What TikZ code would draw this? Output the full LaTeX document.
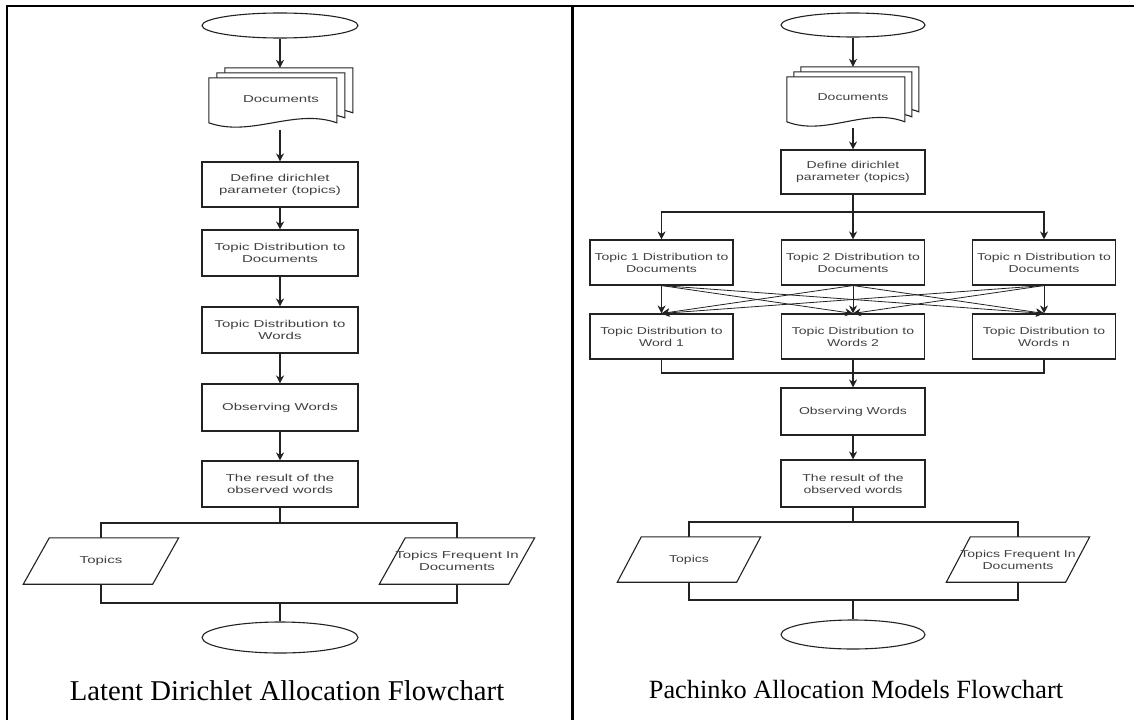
\documentclass[tikz,border=0pt]{standalone}
\usepackage{fontspec}
\setmainfont{Liberation Serif}
\newfontfamily\bfL[FakeStretch=1.5]{Liberation Sans}
\newfontfamily\bfR[FakeStretch=1.4]{Liberation Sans}
\usetikzlibrary{shapes.geometric,arrows.meta,calc}
\pgfdeclarelayer{bg}
\pgfdeclarelayer{mid}
\pgfsetlayers{bg,mid,main}
\definecolor{lc}{HTML}{222222}
\definecolor{tc}{HTML}{404040}
\newcommand\docpage[3]{%
  \draw[page] (#1,#2) -- ({#1+#3},#2) -- ({#1+#3},{#2+45})
    .. controls ({#1+0.67*#3},{#2+30}) and ({#1+0.33*#3},{#2+60}) .. (#1,{#2+45}) -- cycle;}
\newcommand\parashape[2]{%
  \begin{pgfonlayer}{mid}
  \draw[page] ($(#1.south west)+(-#2,0)$) -- ($(#1.south east)+(-#2,0)$)
     -- ($(#1.north east)+(#2,0)$) -- ($(#1.north west)+(#2,0)$) -- cycle;
  \end{pgfonlayer}}
\tikzset{
  ln/.style={draw=lc, line width=1.1pt},
  arr/.style={ln, -{Stealth[length=8pt,width=8pt,inset=2.5pt]}},
  boxL/.style={draw=lc, line width=1.1pt, fill=white, minimum width=156pt, minimum height=46pt,
    inner sep=0pt, align=center, text=tc, font=\bfL\fontsize{10}{12}\selectfont},
  boxR/.style={boxL, minimum width=144pt, font=\bfR\fontsize{10}{12}\selectfont},
  termL/.style={ellipse, draw=lc, line width=1.1pt, fill=white, minimum width=156pt,
    minimum height=25pt, inner sep=0pt},
  termR/.style={termL, minimum width=144pt},
  pboxL/.style={align=center, text=tc, inner sep=0pt, minimum width=129pt, minimum height=46pt,
    font=\bfL\fontsize{10}{12}\selectfont},
  pboxR/.style={pboxL, minimum width=119pt, minimum height=45pt, font=\bfR\fontsize{10}{12}\selectfont},
  docbox/.style={inner sep=0pt, align=center, text=tc},
  page/.style={draw=lc, line width=1.1pt, fill=white},
  captext/.style={anchor=base, inner sep=0pt},
  frame/.style={draw=black, line width=2.2pt}
}
\begin{document}
\begin{tikzpicture}[x=1pt,y=-1pt]
\useasboundingbox (0,0) rectangle (1134,720);
% frame
\draw[frame] (7,720) -- (7,6) -- (1134,6);
\draw[frame] (572.5,6) -- (572.5,720);

% ---------------- left panel ----------------
\node[termL, minimum height=25pt] (sL) at (280,25.5) {};
\node[docbox, minimum width=144pt, minimum height=62pt, font=\bfL\fontsize{10}{12}\selectfont] (docL) at (281,99) {Documents};
\begin{pgfonlayer}{bg}
\begin{scope}[shift={(docL.north west)}]
  \docpage{16}{0}{128}
  \docpage{8}{5}{128}
  \docpage{0}{10}{128}
\end{scope}
\end{pgfonlayer}
\node[boxL, minimum height=45pt] (defL) at (280,184.5) {Define dirichlet\\parameter (topics)};
\node[boxL] (tdL) at (280,253) {Topic Distribution to\\Documents};
\node[boxL] (twL) at (280,330) {Topic Distribution to\\Words};
\node[boxL, minimum height=47pt] (obsL) at (280,407.5) {Observing Words};
\node[boxL] (resL) at (280,484) {The result of the\\observed words};
\node[pboxL] (tpL) at (101,561) {Topics};
\parashape{tpL}{13}
\node[pboxL] (fqL) at (457,561) {Topics Frequent In\\Documents};
\parashape{fqL}{13}
\node[termL, minimum height=31pt] (eL) at (280,637.5) {};
\coordinate (bL1) at (280,523);
\coordinate (bL2) at (280,603);

\draw[arr] (sL.south) -- (sL.south |- docL.north);
\draw[arr] (docL.south -| defL.north) -- (defL.north);
\draw[arr] (defL) -- (tdL);
\draw[arr] (tdL) -- (twL);
\draw[arr] (twL) -- (obsL);
\draw[arr] (obsL) -- (resL);
\begin{pgfonlayer}{bg}
\draw[ln] (resL.south) -- (bL1);
\draw[ln] (tpL |- bL1) -- (fqL |- bL1) -- (fqL |- bL2) -- (tpL |- bL2) -- cycle;
\draw[ln] (bL2) -- (eL.north);
\end{pgfonlayer}
\node[captext, font=\fontsize{28.7}{32}\selectfont] (capL) at (287,700) {Latent Dirichlet Allocation Flowchart};

% ---------------- right panel ----------------
\node[termR, minimum height=24pt] (sR) at (853,25) {};
\node[docbox, minimum width=132pt, minimum height=61pt, font=\bfR\fontsize{10}{12}\selectfont] (docR) at (853,97.5) {Documents};
\begin{pgfonlayer}{bg}
\begin{scope}[shift={(docR.north west)}]
  \docpage{14}{0}{118}
  \docpage{7}{5}{118}
  \docpage{0}{10}{118}
\end{scope}
\end{pgfonlayer}
\node[boxR, minimum height=44pt] (defR) at (853,172) {Define dirichlet\\parameter (topics)};
\node[boxR, minimum width=143pt, minimum height=45pt] (t1) at (661.5,262.5) {Topic 1 Distribution to\\Documents};
\node[boxR, minimum width=143pt, minimum height=45pt] (t2) at (853,262.5) {Topic 2 Distribution to\\Documents};
\node[boxR, minimum width=143pt, minimum height=45pt] (t3) at (1044,262.5) {Topic n Distribution to\\Documents};
\node[boxR, minimum width=143pt, minimum height=45pt] (w1) at (661.5,336.5) {Topic Distribution to\\Word 1};
\node[boxR, minimum width=143pt, minimum height=45pt] (w2) at (853,336.5) {Topic Distribution to\\Words 2};
\node[boxR, minimum width=143pt, minimum height=45pt] (w3) at (1044,336.5) {Topic Distribution to\\Words n};
\node[boxR, minimum height=47pt] (obsR) at (853,411.5) {Observing Words};
\node[boxR, minimum height=47pt] (resR) at (853,483.5) {The result of the\\observed words};
\node[pboxR] (tpR) at (689,559.5) {Topics};
\parashape{tpR}{12}
\node[pboxR] (fqR) at (1018,559.5) {Topics Frequent In\\Documents};
\parashape{fqR}{12}
\node[termR, minimum height=29pt] (eR) at (853,634.5) {};
\coordinate (sp) at (853,212);
\coordinate (jn) at (853,373);
\coordinate (bR1) at (853,522);
\coordinate (bR2) at (853,600);

\draw[arr] (sR.south) -- (docR.north);
\draw[arr] (docR.south) -- (defR.north);
\draw[ln] (defR.south) -- (sp);
\draw[arr] (sp) -| (t1.north);
\draw[arr] (sp) -| (t3.north);
\draw[arr] (sp) -- (t2.north);
\foreach \a in {t1,t2,t3}{
  \foreach \b in {w1,w2,w3}{
    \draw[arr, line width=0.8pt] (\a.south) -- (\b.north);
  }
}
\draw[ln] (w1.south) |- (jn);
\draw[ln] (w3.south) |- (jn);
\draw[ln] (w2.south) -- (jn);
\draw[arr] (jn) -- (obsR.north);
\draw[arr] (obsR) -- (resR);
\begin{pgfonlayer}{bg}
\draw[ln] (resR.south) -- (bR1);
\draw[ln] (tpR |- bR1) -- (fqR |- bR1) -- (fqR |- bR2) -- (tpR |- bR2) -- cycle;
\draw[ln] (bR2) -- (eR.north);
\end{pgfonlayer}
\node[captext, font=\fontsize{26.3}{29}\selectfont] (capR) at (856,698) {Pachinko Allocation Models Flowchart};
\end{tikzpicture}
\end{document}
